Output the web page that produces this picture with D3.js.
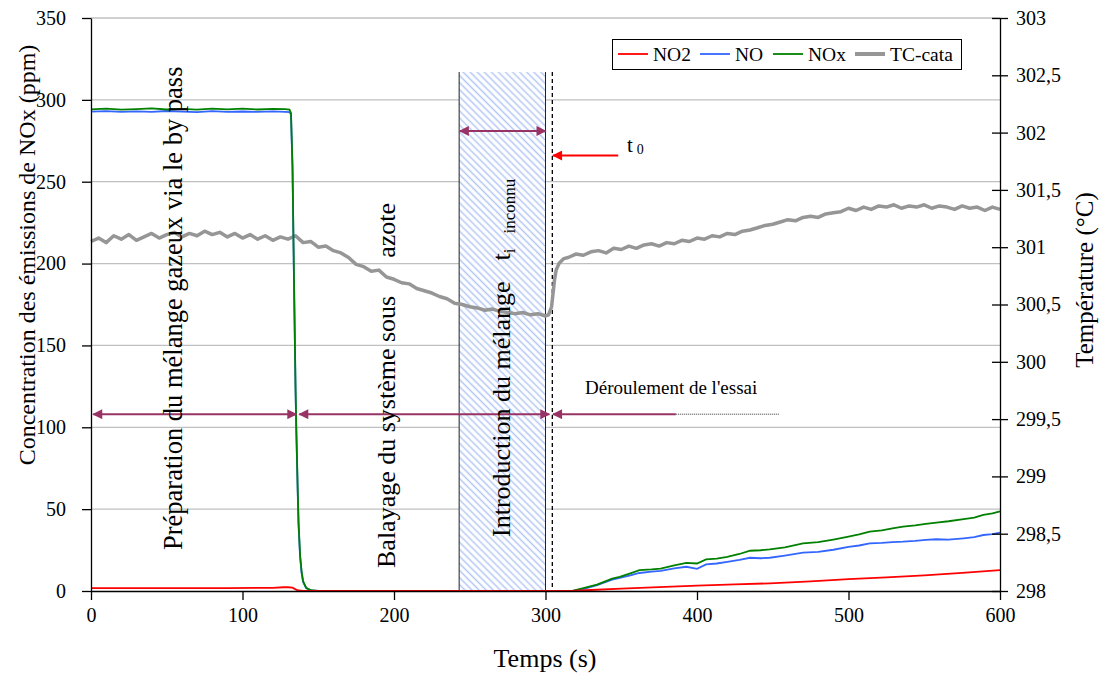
<!DOCTYPE html>
<html><head><meta charset="utf-8">
<script src="https://cdn.jsdelivr.net/npm/d3@7/dist/d3.min.js"></script>
<style>
body{margin:0;background:#fff;}
svg, svg text{font-family:"Liberation Serif","Times New Roman",serif;}
</style></head>
<body><svg id="c" width="1101" height="677"></svg>
<script>
// ---------- DATA ----------
const xTicks = [0,100,200,300,400,500,600];
const yTicks = [0,50,100,150,200,250,300,350];
const yRightTicks = [298,298.5,299,299.5,300,300.5,301,301.5,302,302.5,303];

const noxT = [0,10,20,30,40,50,60,70,80,90,100,110,120,128,131,132,133,134,135,135.5,136,136.5,137,138,139,140,142,145,150,200,250,300,317,325,334,344,349,356,362,370,376,385,393,400,406,413,420,428,435,442,448,458,470,480,490,500,507,514,522,529,536,544,551,558,566,576,583,589,595,600];
const noxV = [294.2,294.6,294.0,294.4,294.8,294.1,294.5,294.0,294.6,294.2,294.7,294.1,294.5,294.3,294.0,292,260,190,125,100,80,60,42,22,12,6,2,0.5,0,0,0,0,0,1.8,3.9,7.6,8.6,10.8,12.7,13.2,13.7,15.6,17.2,16.8,19.3,19.8,20.9,22.6,24.6,24.9,25.4,26.6,29.1,29.8,31.4,33.2,34.6,36.3,37.0,38.2,39.3,40.1,41.0,41.8,42.6,43.9,44.8,46.5,47.4,48.6];

const noT = [0,10,20,30,40,50,60,70,80,90,100,110,120,128,131,132,133,134,135,135.5,136,136.5,137,138,139,140,142,145,150,200,250,300,318,326,334,344,349,356,362,370,376,385,393,400,406,413,420,428,435,442,448,458,470,480,490,500,507,514,522,529,536,544,551,558,566,576,583,589,595,600];
const noV = [292.8,293.1,292.6,293.0,292.7,293.2,292.8,292.5,293.1,292.7,292.9,292.6,293.0,292.7,292.5,291,258,188,123,98,78,58,40,21,11,5.5,1.8,0.4,0,0,0,0,0,1.5,3.6,7.0,8.0,9.6,11.0,11.8,12.3,13.8,14.8,13.5,16.2,16.8,17.8,19.0,20.3,20.0,20.3,21.6,23.4,23.9,25.2,27.0,27.8,29.1,29.4,29.9,30.1,30.6,31.2,31.6,31.4,32.2,32.9,34.2,34.8,35.7];

const no2T = [0,30,60,90,120,127,130,133,135,137,140,150,200,250,300,318,330,350,375,400,425,448,475,500,525,550,575,600];
const no2V = [1.8,1.8,1.8,1.8,1.9,2.3,2.3,2.0,1.0,0.3,0,0,0,0,0,0,0.6,1.4,2.4,3.3,4.0,4.7,5.9,7.2,8.3,9.6,11.1,12.8];

const tcT = [0,5,10,15,20,25,30,35,40,45,50,55,60,65,70,75,80,85,90,95,100,105,110,115,120,125,130,135,140,145,150,155,160,165,170,175,180,185,190,195,200,205,210,215,220,225,230,235,240,245,250,255,260,265,270,275,280,285,290,295,300,302,304,305,306,307,309,312,315,320,325,330,335,340,345,350,355,360,365,370,375,380,385,390,395,400,405,410,415,420,425,430,435,440,445,450,455,460,465,470,475,480,485,490,495,500,505,510,515,520,525,530,535,540,545,550,555,560,565,570,575,580,585,590,595,600];
const tcV = [301.05,301.08,301.04,301.10,301.07,301.11,301.06,301.09,301.12,301.08,301.11,301.13,301.09,301.12,301.10,301.14,301.11,301.13,301.09,301.12,301.08,301.11,301.07,301.10,301.06,301.09,301.07,301.10,301.04,301.05,301.00,301.01,300.97,300.95,300.91,300.85,300.83,300.79,300.80,300.74,300.72,300.69,300.68,300.64,300.62,300.60,300.57,300.55,300.51,300.50,300.48,300.47,300.45,300.46,300.44,300.43,300.42,300.43,300.41,300.42,300.40,300.41,300.48,300.60,300.72,300.80,300.86,300.90,300.91,300.94,300.93,300.96,300.97,300.95,300.99,300.98,301.01,300.99,301.02,301.03,301.01,301.04,301.03,301.06,301.05,301.08,301.07,301.10,301.09,301.12,301.11,301.14,301.15,301.17,301.19,301.20,301.22,301.24,301.23,301.26,301.27,301.26,301.29,301.30,301.31,301.34,301.32,301.35,301.33,301.36,301.35,301.37,301.34,301.36,301.35,301.37,301.34,301.36,301.35,301.33,301.36,301.34,301.35,301.32,301.35,301.33];

// annotations (data units)
const hatch = {t0:243, t1:300, top:317};
const dashT = 304.5;
const phaseArrowY = 108;
const phases = [[1.5,135.5],[137.5,302.5]];
const essai = {t0:305, solidEnd:386, dotEnd:454};
const introArrow = {y:281, t0:243.5, t1:300};
const redArrow = {y:266, from:348, to:305};

const seriesNames = ["NO2","NO","NOx","TC-cata"];
const colors = {NO2:"#ff0000", NO:"#3366ff", NOx:"#008000", "TC-cata":"#969696"};

// ---------- CHART ----------
const FONT = '"Liberation Serif","Times New Roman",serif';
const svg = d3.select("#c");
const x = d3.scaleLinear([0,600],[91,1000]);
const y = d3.scaleLinear([0,350],[591,18]);
const yR = d3.scaleLinear([298,303],[591,18]);
const purple = "#993366";

const defs = svg.append("defs");
const pat = defs.append("pattern").attr("id","hatch").attr("patternUnits","userSpaceOnUse")
  .attr("width",5).attr("height",5).attr("patternTransform","rotate(-45)");
pat.append("rect").attr("width",5).attr("height",5).attr("fill","#fff");
pat.append("line").attr("x1",1.5).attr("y1",0).attr("x2",1.5).attr("y2",5)
  .attr("stroke","#b3c7f5").attr("stroke-width",1.5);
function marker(id,color){
  defs.append("marker").attr("id",id).attr("viewBox","0 0 10 10").attr("refX",9).attr("refY",5)
    .attr("markerWidth",5.5).attr("markerHeight",5).attr("orient","auto-start-reverse")
    .attr("markerUnits","strokeWidth")
    .append("path").attr("d","M0,0L10,5L0,10z").attr("fill",color);
}
marker("mp",purple); marker("mr","#ff0000");

// gridlines
svg.append("g").selectAll("line").data(yTicks.filter(d=>d>0)).join("line")
  .attr("x1",x(0)).attr("x2",x(600)).attr("y1",d=>y(d)).attr("y2",d=>y(d))
  .attr("stroke","#c0c0c0").attr("stroke-width",1.3);

// hatched region
svg.append("rect").attr("x",x(hatch.t0)).attr("y",y(hatch.top))
  .attr("width",x(hatch.t1)-x(hatch.t0)).attr("height",y(0)-y(hatch.top)).attr("fill","url(#hatch)");
[hatch.t0,hatch.t1].forEach(t=>svg.append("line").attr("x1",x(t)).attr("x2",x(t))
  .attr("y1",y(hatch.top)).attr("y2",y(0)).attr("stroke","#222").attr("stroke-width",1));
svg.append("line").attr("x1",x(dashT)).attr("x2",x(dashT)).attr("y1",y(hatch.top)).attr("y2",y(0))
  .attr("stroke","#000").attr("stroke-width",1.3).attr("stroke-dasharray","4,3");

// series
const lineL = d3.line().x(d=>x(d[0])).y(d=>y(d[1]));
const lineR = d3.line().x(d=>x(d[0])).y(d=>yR(d[1]));
svg.append("path").datum(tcT.map((t,i)=>[t,tcV[i]])).attr("d",lineR)
  .attr("fill","none").attr("stroke",colors["TC-cata"]).attr("stroke-width",3.5).attr("stroke-linejoin","round");
svg.append("path").datum(noT.map((t,i)=>[t,noV[i]])).attr("d",lineL)
  .attr("fill","none").attr("stroke",colors.NO).attr("stroke-width",1.8);
svg.append("path").datum(noxT.map((t,i)=>[t,noxV[i]])).attr("d",lineL)
  .attr("fill","none").attr("stroke",colors.NOx).attr("stroke-width",1.8);
svg.append("path").datum(no2T.map((t,i)=>[t,no2V[i]])).attr("d",lineL)
  .attr("fill","none").attr("stroke",colors.NO2).attr("stroke-width",1.8);

// phase arrows
phases.forEach(p=>svg.append("line").attr("x1",x(p[0])).attr("x2",x(p[1]))
  .attr("y1",y(phaseArrowY)).attr("y2",y(phaseArrowY)).attr("stroke",purple).attr("stroke-width",2)
  .attr("marker-start","url(#mp)").attr("marker-end","url(#mp)"));
svg.append("line").attr("x1",x(essai.solidEnd)).attr("x2",x(essai.t0))
  .attr("y1",y(phaseArrowY)).attr("y2",y(phaseArrowY)).attr("stroke",purple).attr("stroke-width",2)
  .attr("marker-end","url(#mp)");
svg.append("line").attr("x1",x(essai.solidEnd)).attr("x2",x(essai.dotEnd))
  .attr("y1",y(phaseArrowY)).attr("y2",y(phaseArrowY)).attr("stroke","#333").attr("stroke-width",1)
  .attr("stroke-dasharray","1,1");
svg.append("line").attr("x1",x(introArrow.t0)).attr("x2",x(introArrow.t1))
  .attr("y1",y(introArrow.y)).attr("y2",y(introArrow.y)).attr("stroke",purple).attr("stroke-width",2)
  .attr("marker-start","url(#mp)").attr("marker-end","url(#mp)");
svg.append("line").attr("x1",x(redArrow.from)).attr("x2",x(redArrow.to))
  .attr("y1",y(redArrow.y)).attr("y2",y(redArrow.y)).attr("stroke","#ff0000").attr("stroke-width",2)
  .attr("marker-end","url(#mr)");

// axes
const fmtR = d=>String(d).replace(".",",");
const gx = svg.append("g").attr("transform",`translate(0,${y(0)})`)
  .call(d3.axisBottom(x).tickValues(xTicks).tickSize(9).tickPadding(8).tickSizeOuter(0));
const gy = svg.append("g").attr("transform",`translate(${x(0)},0)`)
  .call(d3.axisLeft(y).tickValues(yTicks).tickSize(9).tickPadding(16).tickSizeOuter(0));
const gr = svg.append("g").attr("transform",`translate(${x(600)},0)`)
  .call(d3.axisRight(yR).tickValues(yRightTicks).tickFormat(fmtR).tickSize(8).tickPadding(8).tickSizeOuter(0));
gr.selectAll(".tick line").attr("x1",-8).attr("x2",8);
[gx,gy,gr].forEach(g=>{
  g.attr("font-family",FONT).attr("font-size",20);
  g.selectAll("text").attr("font-size",20).style("font-family",FONT).attr("fill","#000");
  g.selectAll("line,path").attr("stroke","#000").attr("stroke-width",1.3);
});

// axis titles
svg.append("text").attr("transform",`translate(35,255) rotate(-90)`)
  .attr("text-anchor","middle").attr("font-size",24).text("Concentration des émissions de NOx (ppm)");
svg.append("text").attr("transform",`translate(1093,280) rotate(-90)`)
  .attr("text-anchor","middle").attr("font-size",25).text("Température (°C)");
svg.append("text").attr("x",545).attr("y",667).attr("text-anchor","middle").attr("font-size",26).text("Temps (s)");

// vertical annotations
svg.append("text").attr("transform","translate(182,550) rotate(-90)").attr("font-size",26.5)
  .text("Préparation du mélange gazeux via le by pass");
const t2 = svg.append("text").attr("transform","translate(395,568) rotate(-90)").attr("font-size",26);
t2.append("tspan").text("Balayage du système sous");
t2.append("tspan").attr("dx",38).text("azote");
const t3 = svg.append("text").attr("transform","translate(510,537) rotate(-90)").attr("font-size",26);
t3.append("tspan").text("Introduction du mélange");
t3.append("tspan").attr("dx",21).text("t");
t3.append("tspan").attr("font-size",17).attr("dy",5).text("i");
t3.append("tspan").attr("font-size",17).attr("dx",15).text("inconnu");

svg.append("text").attr("x",585).attr("y",394).attr("font-size",19).text("Déroulement de l'essai");
const t0 = svg.append("text").attr("x",627).attr("y",152).attr("font-size",21);
t0.append("tspan").text("t");
t0.append("tspan").attr("dx",4).attr("dy",2).attr("font-size",14).text("0");

// legend
const lg = svg.append("g");
lg.append("rect").attr("x",612.5).attr("y",39.5).attr("width",349).attr("height",30)
  .attr("fill","#fff").attr("stroke","#000").attr("stroke-width",1);
const legX = [618,700,773,855];
seriesNames.forEach((n,i)=>{
  lg.append("line").attr("x1",legX[i]).attr("x2",legX[i]+30).attr("y1",54).attr("y2",54)
    .attr("stroke",colors[n]).attr("stroke-width",n==="TC-cata"?4:1.8);
  lg.append("text").attr("x",legX[i]+35).attr("y",61).attr("font-size",19.5).text(n);
});
</script></body></html>
